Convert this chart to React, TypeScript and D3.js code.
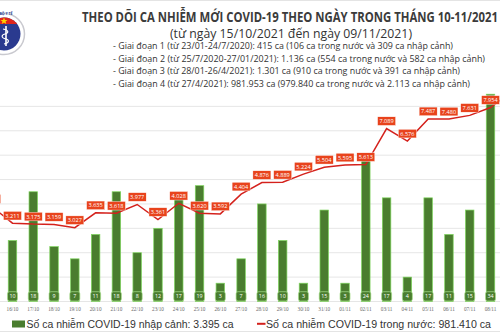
import React from 'react';
import * as d3 from 'd3';

const dates = ["15/10","16/10","17/10","18/10","19/10","20/10","21/10","22/10","23/10","24/10","25/10","26/10","27/10","28/10","29/10","30/10","31/10","01/11","02/11","03/11","04/11","05/11","06/11","07/11","08/11","09/11"];
const importCases = [6,10,18,9,7,11,18,8,12,17,19,3,7,16,10,3,15,3,24,17,4,17,11,15,34,12];
const domesticCases = [3900,3211,3175,3159,3027,3635,3618,3977,3361,4028,3620,3592,4404,4876,4889,5224,5504,5595,5613,7089,6576,7487,7480,7631,7954,8600];

const titleText = "THEO DÕI CA NHIỄM MỚI COVID-19 THEO NGÀY TRONG THÁNG 10-11/2021";
const subtitleText = "(từ ngày 15/10/2021 đến ngày 09/11/2021)";
const phaseLines = [
  "- Giai đoạn 1 (từ 23/01-24/7/2020): 415 ca (106 ca trong nước và 309 ca nhập cảnh)",
  "- Giai đoạn 2 (từ 25/7/2020-27/01/2021): 1.136 ca (554 ca trong nước và 582 ca nhập cảnh)",
  "- Giai đoạn 3 (từ 28/01-26/4/2021): 1.301 ca (910 ca trong nước và 391 ca nhập cảnh)",
  "- Giai đoạn 4 (từ 27/4/2021): 981.953 ca (979.840 ca trong nước và 2.113 ca nhập cảnh)",
];
const phaseWidths = [340, 372, 347, 357];
const legendImport = "Số ca nhiễm COVID-19 nhập cảnh: 3.395 ca";
const legendDomestic = "Số ca nhiễm COVID-19 trong nước: 981.410 ca";

const W = 500, H = 333;
const BASE = 301.5, TOP = 82;

const fmt = (v: number) => d3.format(",")(v).replace(/,/g, ".");

export default function App() {
  const x = d3.scalePoint<string>().domain(dates).range([-8.3, 511.3]);
  const yLine = d3.scaleLinear().domain([0, 9000]).range([BASE, TOP]);
  const yBar = d3.scaleLinear().domain([0, 36]).range([BASE, TOP]);
  const grid = yLine.ticks(9).filter(t => t <= 8000);
  const line = d3.line<number>().x((_, i) => x(dates[i]) as number).y(d => yLine(d));
  const barW = 8.5;
  const sans = "'Open Sans', 'Noto Sans', sans-serif";

  return (
    <svg width={W} height={H} style={{ position: 'fixed', left: 0, top: 0, background: '#fff' }}
      fontFamily={sans}>
      <rect x={0} y={0} width={W} height={H} fill="#fff" />
      <line x1={0} x2={W} y1={0.5} y2={0.5} stroke="#e4e4e4" />
      <line x1={0} x2={W} y1={331.5} y2={331.5} stroke="#e4e4e4" />

      {/* logo */}
      <g>
        <circle cx={4} cy={34} r={20.5} fill="#fff" stroke="#c9c9cf" strokeWidth={1.5} />
        <clipPath id="inner"><circle cx={4} cy={34} r={16.5} /></clipPath>
        <circle cx={4} cy={34} r={16.5} fill="#2a3a8f" />
        <rect x={-14} y={16} width={40} height={8} fill="#e0251b" clipPath="url(#inner)" />
        <path d="M4,17.5 L5,20 L7.5,20 L5.5,21.5 L6.3,24 L4,22.5 L1.7,24 L2.5,21.5 L0.5,20 L3,20 Z" fill="#ffd400" />
        <line x1={6} x2={6} y1={26} y2={46} stroke="#fff" strokeWidth={1.6} />
        <path d="M3,29 C9,30 9,33 5,34 C1,35 1,38 6,39 C10,40 9,43 4,44" stroke="#fff" strokeWidth={1.1} fill="none" />
        <text x={6} y={15} fontSize={3.5} fill="#2a3a8f" textAnchor="middle" fontWeight={700}>BỘ Y TẾ</text>
      </g>

      {/* headings */}
      <text x={82} y={21.5} fontSize={13.5} fontWeight={700} fill="#3b3b3b" textLength={416} lengthAdjust="spacingAndGlyphs">{titleText}</text>
      <text x={170} y={37.5} fontSize={12.5} fontWeight={500} fill="#333" textLength={242} lengthAdjust="spacingAndGlyphs">{subtitleText}</text>
      {phaseLines.map((t, i) => (
        <text key={i} x={113} y={49 + i * 12.6} fontSize={8.5} fill="#333" textLength={phaseWidths[i]} lengthAdjust="spacingAndGlyphs">{t}</text>
      ))}

      {/* grid */}
      {grid.map(t => (
        <line key={t} x1={0} x2={W} y1={yLine(t)} y2={yLine(t)} stroke="#e6e6e6" strokeWidth={1} />
      ))}

      {/* bars */}
      {dates.map((d, i) => (
        <rect key={d} x={(x(d) as number) - barW / 2} y={yBar(importCases[i])} width={barW}
          height={BASE - yBar(importCases[i])} fill="#4a7d2f" stroke="#7fd65e" strokeWidth={0.7} />
      ))}

      {/* line */}
      <path d={line(domesticCases) as string} fill="none" stroke="#d4211c" strokeWidth={1.5} />

      {/* line labels */}
      {dates.map((d, i) => {
        const cx = x(d) as number, cy = yLine(domesticCases[i]) - 7.5;
        return (
          <g key={d}>
            <rect x={cx - 9} y={cy - 4.3} width={18} height={8.6} fill="#e8431c" stroke="#fff" strokeWidth={0.4} />
            <text x={cx} y={cy + 2} fontSize={5.6} fill="#fff" textAnchor="middle">{fmt(domesticCases[i])}</text>
          </g>
        );
      })}

      {/* bar labels */}
      {dates.map((d, i) => {
        const cx = x(d) as number;
        return (
          <g key={d}>
            <rect x={cx - 5} y={291.7} width={10} height={9.3} rx={2} fill="#4a7d2f" stroke="#a9e08d" strokeWidth={0.7} />
            <text x={cx} y={298.2} fontSize={5.4} fill="#fff" textAnchor="middle">{importCases[i]}</text>
          </g>
        );
      })}

      {/* x labels */}
      {dates.map(d => (
        <text key={d} x={x(d) as number} y={311} fontSize={5.2} fill="#666" textAnchor="middle"
          fontFamily="'Liberation Serif', serif">{d}</text>
      ))}

      {/* legend */}
      <rect x={12} y={320.5} width={13} height={7} fill="#4a7d2f" />
      <text x={26.5} y={327.8} fontSize={10.5} fill="#333" textLength={207} lengthAdjust="spacingAndGlyphs"
        fontFamily="'Liberation Sans', Arial, sans-serif">{legendImport}</text>
      <line x1={257} x2={265.5} y1={323.8} y2={323.8} stroke="#d4211c" strokeWidth={2} />
      <text x={266} y={327.8} fontSize={10.5} fill="#333" textLength={225} lengthAdjust="spacingAndGlyphs"
        fontFamily="'Liberation Sans', Arial, sans-serif">{legendDomestic}</text>
    </svg>
  );
}
